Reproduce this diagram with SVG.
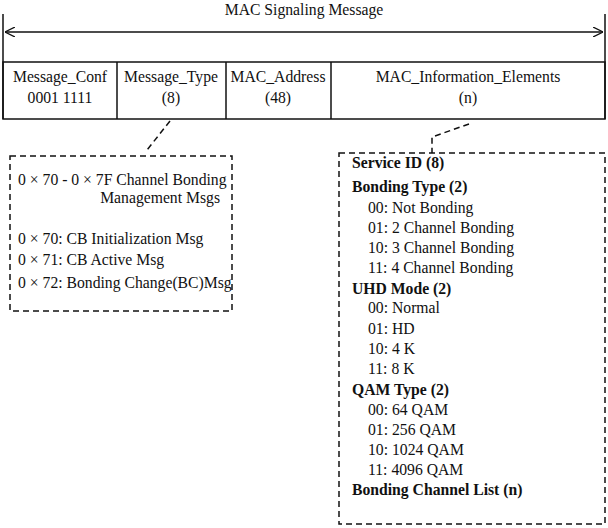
<svg xmlns="http://www.w3.org/2000/svg" width="608" height="528" viewBox="0 0 608 528">
<style>
text{font-family:"Liberation Serif","Times New Roman",serif;font-size:15.7px;fill:#111}
.c{text-anchor:middle}
.b{font-weight:bold}
.ln{stroke:#111;stroke-width:1.5;fill:none}
.d{stroke:#111;stroke-width:1.5;fill:none;stroke-dasharray:6,4}
</style>
<defs>
<marker id="ah" viewBox="0 0 10 10" refX="10" refY="5" markerWidth="10" markerHeight="10" orient="auto-start-reverse" markerUnits="userSpaceOnUse">
<path d="M0,0 L10,5 L0,10" fill="none" stroke="#111" stroke-width="1.3"/>
</marker>
</defs>
<rect width="608" height="528" fill="#fff"/>
<g id="header">
<text class="c" x="304" y="15">MAC Signaling Message</text>
<line class="ln" x1="3" y1="14" x2="3" y2="119"/>
<line class="ln" x1="605" y1="14" x2="605" y2="119"/>
<line class="ln" x1="5" y1="32" x2="603" y2="32" marker-start="url(#ah)" marker-end="url(#ah)"/>
</g>
<g id="fields">
<rect class="ln" x="3" y="62" width="602" height="57"/>
<line class="ln" x1="117" y1="62" x2="117" y2="119"/>
<line class="ln" x1="226" y1="62" x2="226" y2="119"/>
<line class="ln" x1="331" y1="62" x2="331" y2="119"/>
</g>
<g id="f-conf"><text class="c" x="60" y="82">Message_Conf</text><text class="c" x="60" y="103">0001 1111</text></g>
<g id="f-type"><text class="c" x="171" y="82">Message_Type</text><text class="c" x="171" y="103">(8)</text></g>
<g id="f-addr"><text class="c" x="278" y="82">MAC_Address</text><text class="c" x="278" y="103">(48)</text></g>
<g id="f-ie"><text class="c" x="468" y="82">MAC_Information_Elements</text><text class="c" x="468" y="103">(n)</text></g>
<g id="connectors">
<path class="d" d="M170,121 L147,150"/>
<path class="d" d="M469,124 L432,137 L432,153"/>
</g>
<g id="type-box">
<rect class="d" x="10" y="156" width="222" height="155"/>
<text x="18" y="185">0 × 70 - 0 × 7F Channel Bonding</text>
<text x="220" y="203" text-anchor="end">Management Msgs</text>
<text x="18" y="244">0 × 70: CB Initialization Msg</text>
<text x="18" y="265">0 × 71: CB Active Msg</text>
<text x="18" y="288">0 × 72: Bonding Change(BC)Msg</text>
</g>
<g id="ie-box">
<rect class="d" x="339" y="153" width="266" height="371"/>
<text class="b" x="352" y="168">Service ID (8)</text>
<text class="b" x="352" y="192">Bonding Type (2)</text>
<text x="368" y="213">00: Not Bonding</text>
<text x="368" y="233">01: 2 Channel Bonding</text>
<text x="368" y="253">10: 3 Channel Bonding</text>
<text x="368" y="273">11: 4 Channel Bonding</text>
<text class="b" x="352" y="294">UHD Mode (2)</text>
<text x="368" y="313">00: Normal</text>
<text x="368" y="334">01: HD</text>
<text x="368" y="354">10: 4 K</text>
<text x="368" y="374">11: 8 K</text>
<text class="b" x="352" y="395">QAM Type (2)</text>
<text x="368" y="415">00: 64 QAM</text>
<text x="368" y="435">01: 256 QAM</text>
<text x="368" y="455">10: 1024 QAM</text>
<text x="368" y="475">11: 4096 QAM</text>
<text class="b" x="352" y="495">Bonding Channel List (n)</text>
</g>
</svg>
